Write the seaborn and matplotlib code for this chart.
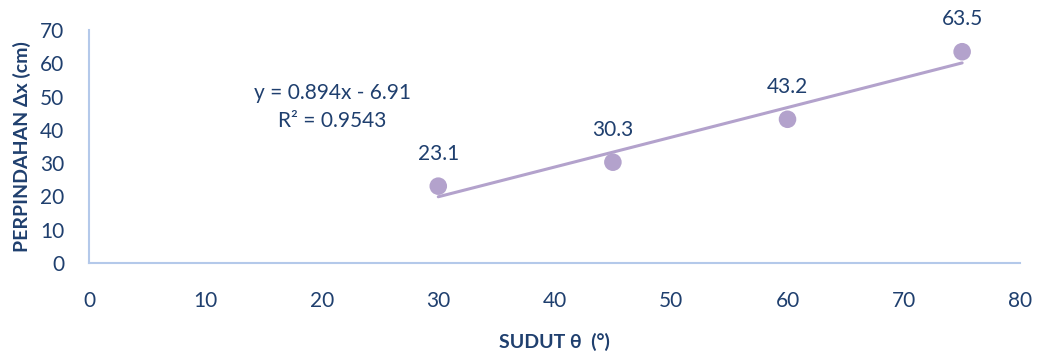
import numpy as np
import pandas as pd
import matplotlib
matplotlib.use("Agg")
import matplotlib.pyplot as plt
import seaborn as sns

# Measured displacement for each launch angle
sudut = [30, 45, 60, 75]
perpindahan = [23.1, 30.3, 43.2, 63.5]
x_ticks = [0, 10, 20, 30, 40, 50, 60, 70, 80]
y_ticks = [0, 10, 20, 30, 40, 50, 60, 70]

df = pd.DataFrame({"sudut": sudut, "perpindahan": perpindahan})

sns.set_theme(style="white")
plt.rcParams["font.family"] = ["Lato", "DejaVu Sans"]

navy = "#1f3f6e"
lavender = "#b3a2cc"
spine_blue = "#b4c9ea"

fig = plt.figure(figsize=(10.4, 3.54), dpi=100)
ax = fig.add_axes([0.0856, 0.257, 0.8955, 0.658])

# Linear trend line through the measurements
slope, intercept = np.polyfit(df["sudut"], df["perpindahan"], 1)
pred = slope * df["sudut"] + intercept
r2 = 1 - ((df["perpindahan"] - pred) ** 2).sum() / ((df["perpindahan"] - df["perpindahan"].mean()) ** 2).sum()
xs = np.array([min(sudut), max(sudut)])
sns.lineplot(x=xs, y=slope * xs + intercept, ax=ax, color=lavender, linewidth=2.2)

sns.scatterplot(data=df, x="sudut", y="perpindahan", ax=ax, color=lavender,
                s=160, edgecolor="none", zorder=3)

for xv, yv in zip(sudut, perpindahan):
    ax.annotate(f"{yv}", (xv, yv), xytext=(0, 16), textcoords="offset points",
                ha="center", va="bottom", fontsize=15, color=navy)

ax.text(20.9, 47.0, f"y = {slope:.3f}x - {abs(intercept):.2f}\nR² = {r2:.4f}",
        ha="center", va="center", fontsize=15, color=navy, linespacing=1.5)

ax.set_xlim(0, 80)
ax.set_ylim(0, 70)
ax.set_xticks(x_ticks)
ax.set_yticks(y_ticks)
ax.tick_params(axis="both", labelsize=15, labelcolor=navy, length=0)
ax.tick_params(axis="x", pad=20)
ax.tick_params(axis="y", pad=18)

for side in ["top", "right"]:
    ax.spines[side].set_visible(False)
for side in ["left", "bottom"]:
    ax.spines[side].set_color(spine_blue)
    ax.spines[side].set_linewidth(1.5)

ax.set_xlabel("SUDUT θ  (°)", fontsize=14, fontweight="bold", color=navy, labelpad=16)
ax.set_ylabel("PERPINDAHAN Δx (cm)", fontsize=14, fontweight="bold", color=navy, labelpad=6)

fig.savefig("out.png", dpi=100)
